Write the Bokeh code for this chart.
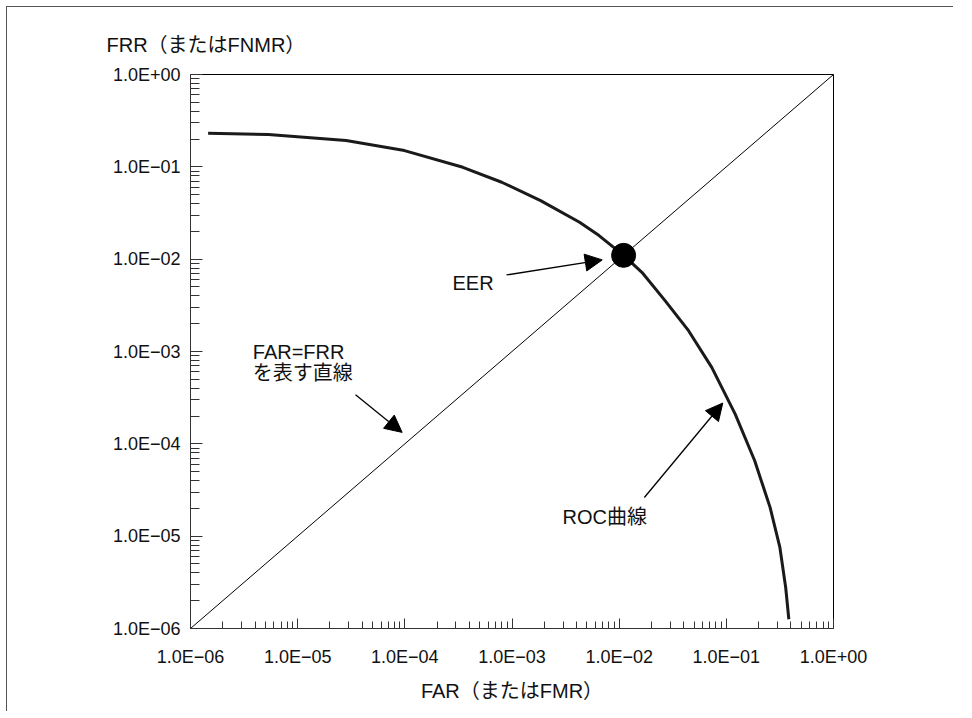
from bokeh.plotting import figure
from bokeh.models import (FixedTicker, CustomJSTickFormatter, Arrow, NormalHead,
                          Label, Range1d)
from bokeh.embed import file_html
from bokeh.resources import INLINE

# ---- data -------------------------------------------------------------
tick_values = [1e-6, 1e-5, 1e-4, 1e-3, 1e-2, 1e-1, 1e0]
tick_labels = ["1.0E\u221206", "1.0E\u221205", "1.0E\u221204", "1.0E\u221203",
               "1.0E\u221202", "1.0E\u221201", "1.0E+00"]

roc_far = [1.46e-6, 5.32e-6, 2.83e-5, 9.93e-5, 3.48e-4, 8.02e-4, 1.85e-3,
           4.27e-3, 6.49e-3, 1.1e-2, 1.63e-2, 2.68e-2, 4.44e-2, 7.31e-2,
           0.121, 0.184, 0.256, 0.316, 0.358, 0.383]
roc_frr = [0.231, 0.224, 0.193, 0.150, 0.0989, 0.0681, 0.0431,
           0.0251, 0.0180, 1.1e-2, 7.21e-3, 3.56e-3, 1.68e-3, 6.73e-4,
           2.10e-4, 6.56e-5, 2.05e-5, 7.55e-6, 2.78e-6, 1.26e-6]

diag_far = [1e-6, 1.0]
diag_frr = [1e-6, 1.0]

eer_far = [1.1e-2]
eer_frr = [1.1e-2]

x_title = "FAR\uff08\u307e\u305f\u306fFMR\uff09"
y_title = "FRR\uff08\u307e\u305f\u306fFNMR\uff09"

FONT_STR = "Liberation Sans, Noto Sans CJK JP"

# ---- figure -----------------------------------------------------------
p = figure(x_axis_type="log", y_axis_type="log",
           x_range=Range1d(1e-6, 1.0), y_range=Range1d(1e-6, 1.0),
           frame_width=643, frame_height=554,
           min_border_left=183, min_border_top=67,
           min_border_right=120, min_border_bottom=83,
           output_backend="svg", toolbar_location=None)
p.styles = {"margin-left": "6px", "margin-top": "6px",
            "border-top": "1px solid #555", "border-left": "1px solid #555"}
p.background_fill_color = "white"
p.border_fill_color = "white"
p.outline_line_color = "black"
p.outline_line_width = 1
p.xgrid.visible = False
p.ygrid.visible = False

# y-axis title drawn as the figure title, placed above the top-left corner
p.title.text = y_title
p.title.align = "left"
p.title.vertical_align = "bottom"
p.title.offset = -84
p.title.standoff = 38
p.title.text_font = FONT_STR
p.title.text_font_size = "20px"
p.title.text_font_style = "normal"
p.title.text_color = "#111111"

minor = [k * 10.0 ** e for e in range(-6, 0) for k in range(2, 10)]
fmt_code = """
let best = 0, bd = 1e9;
for (let i = 0; i < values.length; i++) {
  const d = Math.abs(Math.log10(values[i]) - Math.log10(tick));
  if (d < bd) { bd = d; best = i; }
}
return labels[best];
"""
for ax in (p.xaxis[0], p.yaxis[0]):
    ax.ticker = FixedTicker(ticks=tick_values, minor_ticks=minor)
    ax.formatter = CustomJSTickFormatter(args=dict(values=tick_values, labels=tick_labels),
                                         code=fmt_code)
    ax.major_tick_out = 0
    ax.minor_tick_out = 0
    ax.axis_line_color = "#333333"
    ax.major_tick_line_color = "#333333"
    ax.minor_tick_line_color = "#333333"
    ax.major_label_text_font = FONT_STR
    ax.major_label_text_font_size = "18px"
    ax.major_label_text_color = "#111111"

p.xaxis[0].major_tick_in = 10
p.xaxis[0].minor_tick_in = 7
p.yaxis[0].major_tick_in = 12
p.yaxis[0].minor_tick_in = 9

p.xaxis[0].major_label_standoff = 18
p.yaxis[0].major_label_standoff = 10
p.xaxis[0].axis_label = x_title
p.xaxis[0].axis_label_text_font = FONT_STR
p.xaxis[0].axis_label_text_font_size = "20px"
p.xaxis[0].axis_label_text_font_style = "normal"
p.xaxis[0].axis_label_text_color = "#111111"
p.xaxis[0].axis_label_standoff = 10

# ---- glyphs -----------------------------------------------------------
p.line(diag_far, diag_frr, line_color="black", line_width=1)
p.line(roc_far, roc_frr, line_color="#1a1a1a", line_width=3, line_join="round")
p.scatter(eer_far, eer_frr, size=24, fill_color="black", line_color="black")

# ---- annotations ------------------------------------------------------
def arrow(x0, y0, x1, y1):
    p.add_layout(Arrow(x_start=10 ** x0, y_start=10 ** y0, x_end=10 ** x1, y_end=10 ** y1,
                       line_width=1.3, line_color="black",
                       end=NormalHead(size=17, fill_color="black", line_color="black")))

arrow(-3.051, -2.171, -2.158, -2.008)   # EER
arrow(-4.460, -3.468, -4.025, -3.876)   # FAR=FRR
arrow(-1.765, -4.581, -1.033, -3.558)   # ROC

def label(x, y, txt, size="20px"):
    p.add_layout(Label(x=10 ** x, y=10 ** y, text=txt, text_font=FONT_STR,
                       text_font_size=size, text_align="left",
                       text_baseline="middle", text_color="#111111"))

label(-3.555, -2.254, "EER")
label(-5.419, -3.002, "FAR=FRR")
label(-5.419, -3.235, "\u3092\u8868\u3059\u76f4\u7dda")
label(-2.529, -4.790, "ROC\u66f2\u7dda")

open("out.html", "w").write(file_html(p, INLINE))
